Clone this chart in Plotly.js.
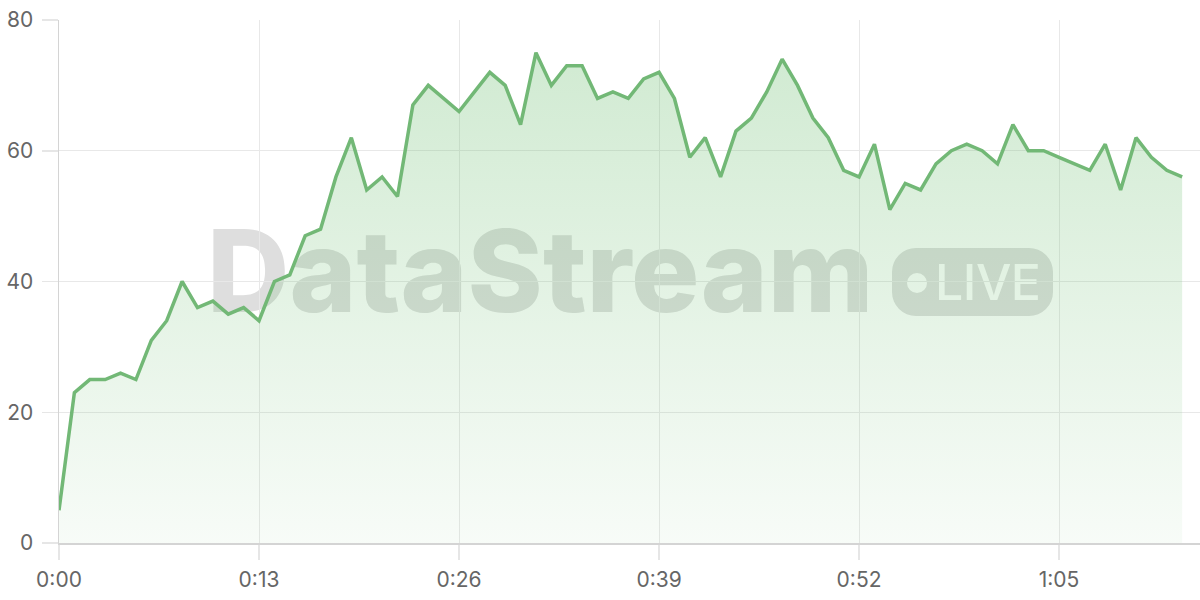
<!DOCTYPE html>
<html>
<head>
<meta charset="utf-8">
<script src="https://cdn.plot.ly/plotly-3.0.1.min.js"></script>
<style>
  body { margin: 0; background: #fff; }
  #wrap { position: relative; width: 1200px; height: 600px; overflow: hidden; }
  #mark { position: absolute; left: 0; top: 0; width: 1200px; height: 600px; z-index: 0; }
  #myDiv { position: absolute; left: 0; top: 0; width: 1200px; height: 600px; z-index: 1; }
  .brand { position: absolute; left: 207px; top: 214px; font-family: Inter, sans-serif; font-weight: 800;
           font-size: 114px; line-height: 1; color: #dedede; letter-spacing: 0px; white-space: nowrap; }
  .badge { position: absolute; left: 892px; top: 248px; width: 161px; height: 68px; border-radius: 24px; background: #dedede; }
  .badge .dot { position: absolute; left: 15px; top: 25px; width: 20px; height: 20px; border-radius: 50%; background: #fff; }
  .badge .txt { position: absolute; left: 43px; top: 9px; font-family: Inter, sans-serif; font-weight: 500;
                font-size: 50px; line-height: 1; color: #fff; letter-spacing: -0.5px; }
</style>
</head>
<body>
<div id="wrap">
  <div id="mark">
    <div class="brand">DataStream</div>
    <div class="badge"><div class="dot"></div><div class="txt">LIVE</div></div>
  </div>
  <div id="myDiv"></div>
</div>
<script>
// seconds since start
var seconds = [0, 1, 2, 3, 4, 5, 6, 7, 8, 9, 10, 11, 12, 13, 14, 15, 16, 17, 18, 19,
               20, 21, 22, 23, 24, 25, 26, 27, 28, 29, 30, 31, 32, 33, 34, 35, 36, 37, 38, 39,
               40, 41, 42, 43, 44, 45, 46, 47, 48, 49, 50, 51, 52, 53, 54, 55, 56, 57, 58, 59,
               60, 61, 62, 63, 64, 65, 66, 67, 68, 69, 70, 71, 72, 73];
var values = [5, 23, 25, 25, 26, 25, 31, 34, 40, 36, 37, 35, 36, 34, 40, 41, 47, 48, 56, 62,
              54, 56, 53, 67, 70, 68, 66, 69, 72, 70, 64, 75, 70, 73, 73, 68, 69, 68, 71, 72,
              68, 59, 62, 56, 63, 65, 69, 74, 70, 65, 62, 57, 56, 61, 51, 55, 54, 58, 60, 61,
              60, 58, 64, 60, 60, 59, 58, 57, 61, 54, 62, 59, 57, 56];
var xTickVals = [0, 13, 26, 39, 52, 65];
var xTickText = ['0:00', '0:13', '0:26', '0:39', '0:52', '1:05'];
var yTickVals = [0, 20, 40, 60, 80];

var trace = {
  x: seconds,
  y: values,
  type: 'scatter',
  mode: 'lines',
  line: {color: '#72b876', width: 3.5},
  fill: 'tozeroy',
  fillgradient: {
    type: 'vertical',
    start: 0,
    stop: 80,
    colorscale: [[0, 'rgba(102,187,106,0.05)'], [1, 'rgba(102,187,106,0.32)']]
  },
  hoverinfo: 'skip'
};

var tickFont = {family: 'Inter, sans-serif', size: 21, color: '#666666'};

var layout = {
  width: 1200,
  height: 600,
  margin: {l: 59, r: 0, t: 20, b: 57},
  paper_bgcolor: 'rgba(0,0,0,0)',
  plot_bgcolor: 'rgba(0,0,0,0)',
  showlegend: false,
  xaxis: {
    range: [0, 74.16],
    tickvals: xTickVals,
    ticktext: xTickText,
    ticks: 'outside',
    ticklen: 15,
    tickcolor: '#e6e6e6',
    tickwidth: 1.5,
    showgrid: true,
    gridcolor: '#e8e8e8',
    showline: true,
    linecolor: '#d4d4d4',
    linewidth: 1.5,
    zeroline: false,
    tickfont: tickFont,
    ticklabelstandoff: 2,
    fixedrange: true
  },
  yaxis: {
    range: [0, 80],
    tickvals: yTickVals,
    ticks: 'outside',
    ticklen: 16,
    tickcolor: '#e6e6e6',
    tickwidth: 1.5,
    showgrid: true,
    gridcolor: '#e8e8e8',
    showline: true,
    linecolor: '#d4d4d4',
    linewidth: 1.5,
    zeroline: false,
    tickfont: tickFont,
    ticklabelstandoff: 4,
    fixedrange: true
  }
};

Plotly.newPlot('myDiv', [trace], layout, {displayModeBar: false, staticPlot: true});
</script>
</body>
</html>
